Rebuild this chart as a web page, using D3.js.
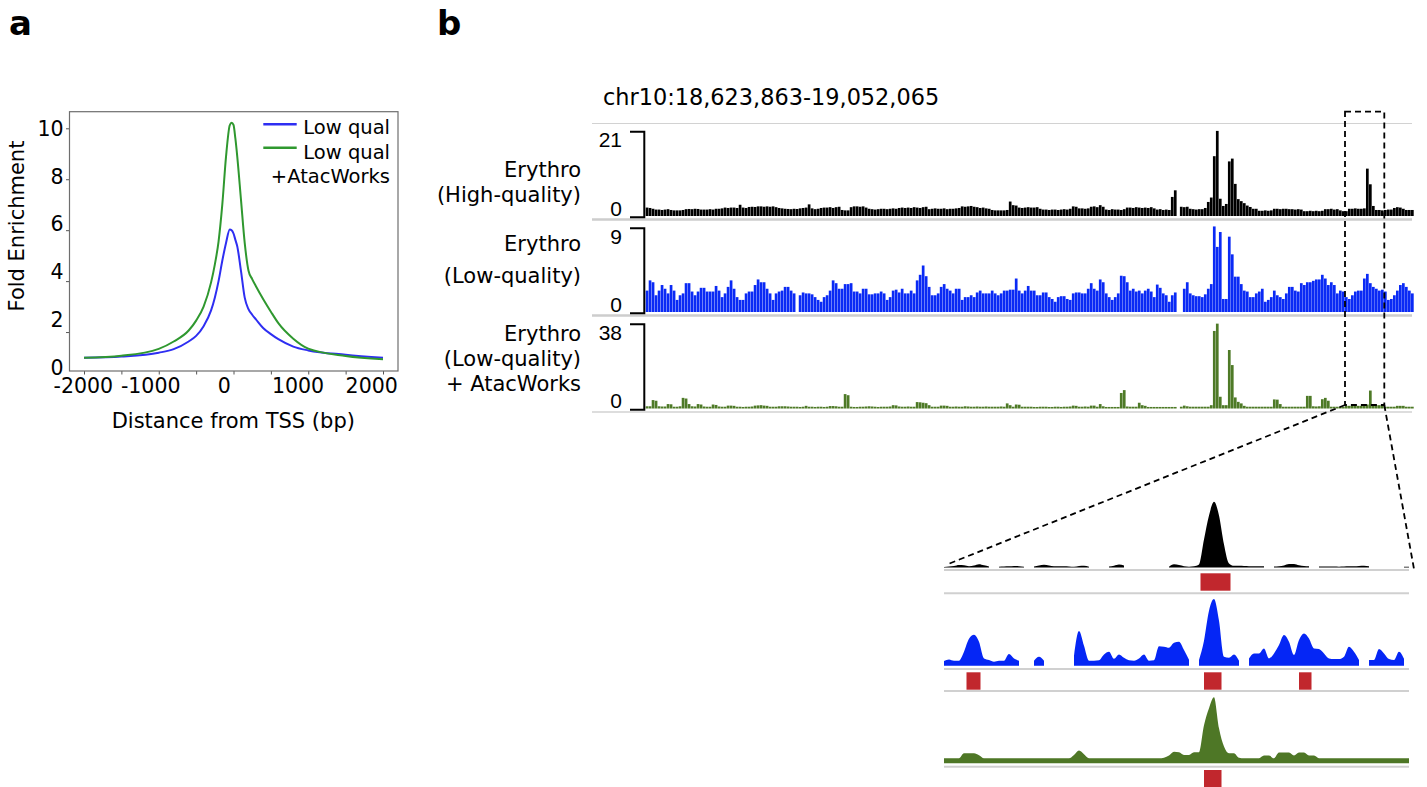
<!DOCTYPE html>
<html><head><meta charset="utf-8">
<script src="https://cdn.jsdelivr.net/npm/d3@7"></script>
<style>body{margin:0;background:#fff}svg{display:block}</style>
</head><body>
<svg id="fig" width="1427" height="787"></svg>
<script>
// ---------------- Panel a data ----------------
const tssBp = [-2000,-1500,-1000,-800,-600,-500,-400,-300,-250,-200,-150,-100,-50,-25,0,25,50,100,150,200,250,300,400,500,600,800,1000,1500,2000];
const lowQualFE = [0.99,1.04,1.19,1.33,1.63,1.85,2.23,2.85,3.35,4.0,4.8,5.5,6.03,6.0,5.87,5.62,5.37,4.4,3.35,2.9,2.68,2.5,2.15,1.92,1.72,1.43,1.28,1.11,0.99];
const atacWorksFE = [0.99,1.07,1.34,1.63,2.06,2.45,3.0,3.95,4.65,5.55,7.0,8.89,10.12,10.22,10.13,9.6,8.9,7.2,5.5,4.42,4.08,3.8,3.28,2.8,2.35,1.74,1.35,1.06,0.93];
const xTickLabels = [-2000,-1000,0,1000,2000];
const yTickLabels = [0,2,4,6,8,10];
const legendLabels = ["Low qual", "Low qual", "+AtacWorks"];

// ---------------- Panel b data (genome browser bins) ----------------
const region = "chr10:18,623,863-19,052,065";
const trackNames = [["Erythro","(High-quality)"],["Erythro","(Low-quality)"],["Erythro","(Low-quality)","+ AtacWorks"]];
const trackMax = [21, 9, 38];
const highQual = [
2.1,2.0,1.8,1.6,1.6,1.5,1.6,1.7,1.5,1.4,
1.4,1.4,1.5,1.7,1.75,1.7,1.8,1.75,1.6,1.6,
1.6,1.7,1.6,1.8,1.8,1.9,2.1,2.0,2.1,2.1,
2.0,2.8,2.1,2.0,2.25,2.3,2.25,2.4,2.4,2.3,
2.4,2.3,2.4,2.2,2.0,1.9,1.8,1.75,1.7,1.8,
1.75,1.9,2.0,2.1,2.9,1.9,1.7,1.8,2.0,2.1,
2.1,2.2,2.0,2.2,2.3,1.5,1.4,1.4,2.2,2.4,
2.4,2.3,2.4,2.1,1.8,1.7,1.6,1.7,1.8,1.8,
1.7,1.8,1.9,1.8,2.0,2.1,2.0,2.1,2.0,2.2,
2.1,2.0,2.2,2.3,1.7,1.8,1.9,1.8,1.8,1.9,
1.7,1.8,1.8,1.9,2.0,2.4,2.3,2.4,2.5,2.3,
2.2,2.0,2.1,1.9,1.8,1.5,1.4,1.4,1.4,1.4,
1.5,3.6,2.7,2.6,2.1,2.0,2.1,2.2,2.1,2.1,
2.2,1.8,1.6,1.6,1.5,1.6,1.6,1.5,1.6,1.7,
1.6,1.8,2.4,2.3,1.9,1.9,1.8,1.9,2.3,2.4,
2.2,2.7,2.3,1.6,1.5,1.7,1.6,1.6,1.5,1.7,
2.1,2.1,2.0,2.2,2.1,2.0,2.1,2.0,2.2,1.9,
1.6,1.7,1.5,1.6,1.5,4.75,6.4,null,2.3,2.2,
2.3,1.8,1.7,1.6,1.7,1.7,2.0,3.5,4.6,14.9,
21.2,4.3,2.5,3.0,13.6,14.3,8.0,4.2,3.7,3.2,
2.6,2.25,1.8,1.8,1.3,1.3,1.4,1.3,1.4,1.8,
1.8,1.7,1.8,1.8,1.7,1.7,1.6,1.7,1.6,1.2,
1.2,1.3,1.2,1.3,1.2,1.3,1.7,1.7,1.8,1.6,
1.7,1.4,1.2,1.2,1.8,1.8,1.9,1.8,1.8,1.9,
11.8,7.9,2.5,1.5,1.5,1.4,1.5,1.6,1.6,2.0,
2.2,2.1,1.8,1.5,1.5,1.5];
const lowQual = [
2.3,3.4,3.2,1.8,2.3,2.9,2.5,2.0,2.9,2.3,
1.3,1.8,2.0,3.1,3.1,2.2,1.8,2.2,2.6,2.6,
2.2,2.2,2.2,2.8,2.3,1.6,2.0,2.7,3.4,2.5,
1.6,1.3,1.3,2.0,2.2,2.2,2.9,3.5,3.2,3.2,
2.5,2.0,1.3,2.0,2.2,2.3,2.7,2.7,2.3,2.0,
null,1.8,2.1,2.0,2.0,1.9,1.6,1.3,1.1,1.6,
1.8,2.3,3.4,3.1,2.5,2.5,3.0,3.0,3.1,2.2,
2.2,2.0,2.5,2.5,1.9,1.9,2.0,2.0,2.2,2.0,
1.3,1.6,2.3,2.4,2.1,2.5,2.0,2.0,2.3,2.0,
3.4,4.0,5.0,3.85,2.7,1.8,1.8,2.0,2.7,3.0,
2.5,2.3,2.0,2.5,2.5,1.3,1.6,1.6,1.8,1.6,
2.1,2.3,2.0,2.0,2.0,2.3,2.0,1.8,2.0,2.3,
2.3,2.4,2.4,3.6,2.3,2.0,2.3,2.8,2.3,2.3,
1.8,1.8,2.1,2.1,1.6,1.4,1.1,1.6,1.7,1.7,
1.4,1.3,2.0,2.1,2.1,2.0,2.0,2.5,3.1,2.5,
2.3,3.5,3.2,2.0,1.6,1.3,1.6,2.0,3.9,3.85,
3.2,2.3,2.5,2.2,2.3,2.0,2.3,2.5,2.2,1.6,
2.95,2.6,2.0,1.8,1.1,1.8,2.1,null,null,2.5,
3.2,2.0,1.8,1.7,1.7,1.6,1.9,2.5,3.0,9.2,
7.0,8.6,1.4,1.4,8.1,6.2,3.8,3.8,3.0,2.3,
2.2,1.6,1.6,2.0,2.2,2.5,1.1,1.3,1.6,2.3,
1.8,1.6,1.4,2.0,2.7,2.7,2.3,2.2,3.1,2.9,
3.2,3.2,3.35,3.5,3.5,4.0,3.6,2.9,3.2,2.9,
2.0,2.3,2.2,1.6,1.4,1.8,2.2,2.3,2.3,3.6,
4.1,3.1,2.7,2.5,2.3,2.4,2.2,1.3,1.4,1.8,
2.3,2.9,3.1,2.7,2.3,2.0];
const atacWorks = [
1.0,1.0,3.8,3.5,1.0,0.9,0.9,2.0,1.9,0.8,
0.8,1.0,4.8,4.5,2.0,1.0,0.9,2.0,1.8,0.9,
0.8,0.8,1.8,1.6,0.9,0.8,0.8,1.3,1.3,1.2,
0.8,0.8,0.7,0.8,0.8,0.9,1.3,1.4,1.5,1.3,
1.2,0.8,0.8,0.8,1.0,1.0,1.0,0.9,0.8,0.8,
0.8,0.7,0.8,1.2,0.8,0.8,0.7,0.8,0.8,0.7,
0.8,1.1,1.1,1.0,0.8,0.8,6.5,6.0,0.8,0.7,
0.7,0.8,0.8,0.9,1.0,0.9,0.8,0.7,0.8,0.8,
0.8,0.9,1.5,1.4,0.9,0.8,0.8,0.9,0.8,0.8,
2.9,2.8,2.6,2.4,1.5,0.8,0.8,0.8,1.3,1.3,
1.2,0.8,0.8,0.9,0.8,0.8,1.0,0.9,0.8,0.8,
0.9,0.8,0.8,0.9,0.8,0.8,0.8,0.8,0.9,0.8,
2.3,1.5,0.8,1.8,1.7,0.8,0.8,0.8,0.8,0.7,
0.7,0.8,0.8,0.8,0.7,0.7,0.8,0.8,0.7,0.8,
0.8,0.9,1.3,1.2,0.8,0.8,0.9,0.8,1.3,1.3,
0.8,2.0,1.0,0.7,0.7,0.7,0.7,0.7,7.0,8.3,
0.9,0.8,0.8,0.8,2.6,1.5,1.2,0.7,0.7,0.7,
0.7,0.7,0.7,0.7,0.7,0.7,0.7,null,0.8,1.3,
1.0,0.8,0.8,0.8,0.8,0.8,0.8,0.8,1.5,35,
38.3,5.3,1.5,1.5,26.4,19.6,5.0,3.0,2.3,1.2,
0.8,0.8,0.8,0.8,0.8,0.8,0.8,0.8,0.8,4.1,
4.0,2.0,0.8,0.8,0.8,0.8,0.8,0.8,0.8,0.8,
5.7,5.7,1.0,0.9,1.0,4.2,4.8,3.5,0.8,0.8,
0.8,0.8,0.8,1.2,1.2,1.2,1.2,1.2,1.2,1.2,
1.8,8.1,1.8,1.5,1.5,1.3,0.8,0.8,0.8,0.8,
1.2,1.2,1.2,0.8,0.8,0.8];
const zoomWindow = [233.1, 246.2];  // bin range of the enlarged window

// ---------------- Enlarged window data ----------------
const zoomHQ = [
0.6,1.0,1.5,2.5,2.3,1.3,2.0,3.3,2.2,1.0,
null,0.8,1.0,1.2,1.6,1.3,0.8,null,1.0,2.0,
2.7,2.0,1.3,1.2,1.3,1.0,0.8,1.5,1.7,0.8,
null,null,null,1.0,1.8,3.0,2.0,null,null,null,
null,null,null,null,null,0.8,3.2,2.5,1.3,0.8,
1.3,3.0,28,52,65.7,52,23,4,1.7,1.7,
1.5,1.3,1.2,1.2,1.2,null,1.0,1.3,2.0,3.5,
3.5,2.2,1.5,1.2,null,1.0,1.0,1.0,1.0,0.8,
1.0,1.2,1.2,1.5,1.8,1.2,null,null,null,null,
null,null,0.8,0.8];
const zoomLQ = [
4.7,6.3,5.0,5.0,14,27,31,24,7.3,5.7,
4.0,5.0,5.0,11.7,7.3,5.0,null,null,5.0,9.0,
5.0,null,null,null,null,null,10,34.7,20,5.0,
5.0,5.5,11.3,14,7.0,11.3,8.0,5.5,5.0,7.3,
11.3,5.0,5.5,19.5,19,18,23,24,15.7,6.0,
null,5.7,25,55,66.7,45,9.0,8.0,11.3,5.0,
null,7.3,12.3,12.3,17.3,7.3,12.3,20.7,30.7,24,
10.7,25.7,32.3,27.3,17.3,16.7,12.3,7.3,6.7,6.7,
9.0,19,14,5.7,null,5.7,5.7,16.7,12.3,6.7,
5.7,14,7.0,null];
const zoomAW = [
5,5,5,5,10,10,10,8,5,5,
5,5,5,5,5,5,5,5,5,5,
5,5,5,5,5,5,8.3,12.7,9,5,
5,5,5,5,5,5,5,5,5,5,
5,5,5,5,5.5,7.7,11.5,11,8.3,8.3,
11,11,38,55,66,35,16.7,10,10,5.5,
5,5,5,5,7.7,7.7,5,10.7,10.7,10.7,
7.7,10.7,10.7,7.7,7.7,5,5,5,5,5,
5,5,5,5,5,5,5,5,5,5,
5,5,5,5];
const peaksHQ = [[51.3,57.3]];
const peaksLQ = [[4.5,7.3],[52,55.5],[71,73.5]];
const peaksAW = [[52,55.5]];

// ---------------- Drawing ----------------
const svg = d3.select("#fig");
const DJ = "DejaVu Sans, sans-serif";
const AR = "Liberation Sans, Arial, sans-serif";

svg.append("text").attr("x", 9).attr("y", 35).attr("font-family", DJ).attr("font-weight", "bold").attr("font-size", 34).text("a");
svg.append("text").attr("x", 437).attr("y", 35).attr("font-family", DJ).attr("font-weight", "bold").attr("font-size", 34).text("b");

// ---- panel a ----
const fr = {l: 69.5, r: 398, t: 111.7, b: 371};
const xA = d3.scaleLinear().domain([-2000, 2000]).range([84, 383]);
const yA = d3.scaleLinear().domain([0, 10]).range([383, 128.3]);
const xLab = d3.scaleLinear().domain([-2000, -1000, 2000]).range([83.3, 150.7, 371.7]);
const yLab = d3.scaleLinear().domain([0, 10]).range([367.3, 128.3]);
const gA = svg.append("g");

const xAxis = gA.append("g").attr("transform", `translate(0,${fr.b})`)
  .call(d3.axisBottom(xA).tickValues(d3.range(-2000, 2001, 500)).tickSize(3.5).tickFormat(""));
const yAxis = gA.append("g").attr("transform", `translate(${fr.l},0)`)
  .call(d3.axisLeft(yA).tickValues([2, 4, 6, 8, 10]).tickSize(3.5).tickFormat(""));
[xAxis, yAxis].forEach(a => { a.select(".domain").remove(); a.selectAll("line").attr("stroke", "#555").attr("stroke-width", 1); });

gA.selectAll("text.xl").data(xTickLabels).join("text")
  .attr("x", d => xLab(d)).attr("y", 393.3).attr("text-anchor", "middle")
  .attr("font-family", DJ).attr("font-size", 20.5).text(d => d);
gA.selectAll("text.yl").data(yTickLabels).join("text")
  .attr("x", 63.5).attr("y", d => yLab(d) + 7.4).attr("text-anchor", "end")
  .attr("font-family", DJ).attr("font-size", 20.5).text(d => d);

gA.append("rect").attr("x", fr.l).attr("y", fr.t).attr("width", fr.r - fr.l).attr("height", fr.b - fr.t)
  .attr("fill", "none").attr("stroke", "#6e6e6e").attr("stroke-width", 1.2);

const lineA = d3.line().x(d => xA(d[0])).y(d => yA(d[1])).curve(d3.curveMonotoneX);
const colLQ = "#2e2ef2", colAW = "#2f982f";
gA.append("path").attr("d", lineA(tssBp.map((b, i) => [b, lowQualFE[i]]))).attr("fill", "none").attr("stroke", colLQ).attr("stroke-width", 2);
gA.append("path").attr("d", lineA(tssBp.map((b, i) => [b, atacWorksFE[i]]))).attr("fill", "none").attr("stroke", colAW).attr("stroke-width", 2);

// legend
const legY = [124.3, 147.7];
[colLQ, colAW].forEach((c, i) => gA.append("line").attr("x1", 263.3).attr("x2", 296.7).attr("y1", legY[i]).attr("y2", legY[i]).attr("stroke", c).attr("stroke-width", 2.5));
[134.3, 159.3, 183.3].forEach((y, i) => gA.append("text").attr("x", 390).attr("y", y).attr("text-anchor", "end")
  .attr("font-family", DJ).attr("font-size", 19.5).text(legendLabels[i]));

gA.append("text").attr("transform", "translate(17,226) rotate(-90)").attr("text-anchor", "middle").attr("dy", "0.35em")
  .attr("font-family", DJ).attr("font-size", 21).text("Fold Enrichment");
gA.append("text").attr("x", 233.3).attr("y", 428.3).attr("text-anchor", "middle")
  .attr("font-family", DJ).attr("font-size", 21).text("Distance from TSS (bp)");

// ---- panel b ----
const gB = svg.append("g");
gB.append("text").attr("x", 603).attr("y", 105).attr("font-family", DJ).attr("font-size", 22.4).text(region);

const nBins = highQual.length;
const xB = d3.scaleBand().domain(d3.range(nBins)).range([645.7, 645.7 + 3 * nBins]).paddingInner(0.1).paddingOuter(0);
const xIdx = d3.scaleLinear().domain([0, nBins]).range([645.7, 645.7 + 3 * nBins]);
const trackVals = [highQual, lowQual, atacWorks];
const trackCols = ["#000000", "#0a2af5", "#4e7a27"];
const trackTop = [131.7, 228.3, 324.3];
const trackBase = [216, 312, 408.5];
const labelBase = [[177, 202], [251, 283], [341, 366, 391]];

// separators
[[123.5, 1, "#d2d2d2"], [219.5, 2.5, "#cdcdcd"], [315.5, 2.5, "#cdcdcd"], [412, 1.5, "#d2d2d2"]].forEach(s =>
  gB.append("line").attr("x1", 592).attr("x2", 1412).attr("y1", s[0]).attr("y2", s[0]).attr("stroke", s[2]).attr("stroke-width", s[1]));

trackVals.forEach((vals, t) => {
  const y = d3.scaleLinear().domain([0, trackMax[t]]).range([trackBase[t], trackTop[t]]);
  gB.append("g").selectAll("rect").data(vals.map((v, i) => ({i, v})).filter(d => d.v != null)).join("rect")
    .attr("x", d => xB(d.i)).attr("width", xB.bandwidth())
    .attr("y", d => y(d.v)).attr("height", d => y(0) - y(d.v)).attr("fill", trackCols[t]);
  // scale bracket
  const yb = y(0) + 1.3, yt = y(trackMax[t]);
  gB.append("path").attr("d", `M630,${yt}H644.3V${yb}H630`).attr("fill", "none").attr("stroke", "#000").attr("stroke-width", 2);
  gB.append("text").attr("x", 622).attr("y", yt + 15.5).attr("text-anchor", "end").attr("font-family", AR).attr("font-size", 21).text(trackMax[t]);
  gB.append("text").attr("x", 622).attr("y", yb - 1.8).attr("text-anchor", "end").attr("font-family", AR).attr("font-size", 21).text(0);
  trackNames[t].forEach((s, k) => gB.append("text").attr("x", 581).attr("y", labelBase[t][k]).attr("text-anchor", "end")
    .attr("font-family", DJ).attr("font-size", 21).text(s));
});

// ---- enlarged window ----
const nZ = zoomHQ.length;
const xZ = d3.scaleLinear().domain([0, nZ - 1]).range([944, 1409]);
const zBase = [567.5, 665.7, 763.3];
const zVals = [zoomHQ, zoomLQ, zoomAW];
const zCols = ["#000000", "#0526f5", "#4e7726"];
const zPeaks = [peaksHQ, peaksLQ, peaksAW];
const zGray = [[570, 593.3], [669, 691], [766.7, null]];
const gZ = svg.append("g");
zVals.forEach((vals, t) => {
  const y = d3.scaleLinear().domain([0, 66]).range([zBase[t], zBase[t] - 66]);
  const area = d3.area().defined(d => d != null).x((d, i) => xZ(i)).y0(y(0)).y1(d => y(d)).curve(d3.curveMonotoneX);
  gZ.append("path").attr("d", area(vals)).attr("fill", zCols[t]);
  zGray[t].forEach(g => { if (g != null) gZ.append("line").attr("x1", 944).attr("x2", 1409).attr("y1", g).attr("y2", g).attr("stroke", "#d0d0d0").attr("stroke-width", 2); });
  const py = zGray[t][0] + 3.3;
  gZ.selectAll(null).data(zPeaks[t]).join("rect")
    .attr("x", d => xZ(d[0])).attr("width", d => xZ(d[1]) - xZ(d[0]))
    .attr("y", py).attr("height", 17.4).attr("fill", "#c1272d");
});

// dashed zoom indicator
const zx0 = xIdx(zoomWindow[0]), zx1 = xIdx(zoomWindow[1]);
const dash = {stroke: "#000", "stroke-width": 1.8, "stroke-dasharray": "6,4", fill: "none"};
const dpath = (d) => { const p = gB.append("path").attr("d", d); Object.entries(dash).forEach(([k, v]) => p.attr(k, v)); };
dpath(`M${zx0},111.7H${zx1}V405H${zx0}Z`);
dpath(`M${zx0},405L${xZ(0) + 3},${zBase[0] - 3}`);
dpath(`M${zx1},405L${xZ(nZ - 1) + 5},${zBase[0] + 1.5}`);
</script>
</body></html>
